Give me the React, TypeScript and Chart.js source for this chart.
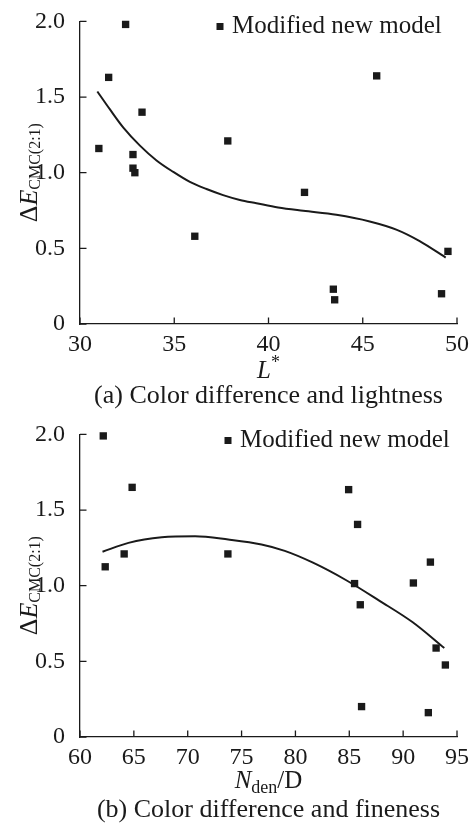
import React, { useEffect, useRef } from 'react';
import { Chart, registerables } from 'chart.js';

Chart.register(...registerables);

// ---- data: (a) colour difference vs lightness ----
const lightnessX = [31.0, 31.52, 32.42, 33.29, 32.81, 32.81, 32.91, 37.84, 41.91, 45.74, 36.09, 43.44, 43.51, 49.18, 49.52];
const lightnessDE = [1.16, 1.63, 1.98, 1.40, 1.12, 1.03, 1.00, 1.21, 0.87, 1.64, 0.58, 0.23, 0.16, 0.20, 0.48];
const lightnessFitX = [30.92, 31.59, 32.30, 33.18, 34.06, 34.95, 35.83, 36.71, 37.59, 38.48, 39.36, 40.51, 41.84, 43.60, 45.37, 46.78, 48.02, 49.40];
const lightnessFitDE = [1.537, 1.418, 1.298, 1.179, 1.081, 1.005, 0.939, 0.892, 0.852, 0.820, 0.798, 0.770, 0.748, 0.722, 0.678, 0.624, 0.548, 0.439];

// ---- data: (b) colour difference vs fineness ----
const finenessX = [62.16, 64.84, 62.34, 64.10, 73.73, 84.94, 85.77, 85.49, 86.02, 90.95, 92.53, 93.06, 93.92, 86.14, 92.34];
const finenessDE = [1.99, 1.65, 1.125, 1.21, 1.21, 1.635, 1.405, 1.014, 0.874, 1.018, 1.156, 0.588, 0.476, 0.201, 0.161];
const finenessFitX = [62.09, 64.50, 67.59, 70.68, 73.76, 76.85, 79.01, 81.63, 84.72, 87.81, 90.89, 93.82];
const finenessFitDE = [1.224, 1.283, 1.320, 1.327, 1.305, 1.272, 1.230, 1.152, 1.036, 0.900, 0.758, 0.588];

const yTicks = [0, 0.5, 1.0, 1.5, 2.0];
const legendLabel = 'Modified new model';
const captionA = '(a) Color difference and lightness';
const captionB = '(b) Color difference and fineness';

const FAMILY = "'Liberation Serif', 'Times New Roman', serif";
const INK = '#1a1a1a';
const W = 469;
const H = 413;

type Part = { t: string; size: number; italic?: boolean; dy?: number };

function drawParts(ctx: CanvasRenderingContext2D, parts: Part[], cx: number, baseY: number) {
  const widths = parts.map((p) => {
    ctx.font = `${p.italic ? 'italic ' : ''}${p.size}px ${FAMILY}`;
    return ctx.measureText(p.t).width;
  });
  const total = widths.reduce((a, b) => a + b, 0);
  let x = cx - total / 2;
  ctx.textAlign = 'left';
  ctx.textBaseline = 'alphabetic';
  parts.forEach((p, i) => {
    ctx.font = `${p.italic ? 'italic ' : ''}${p.size}px ${FAMILY}`;
    ctx.fillText(p.t, x, baseY + (p.dy || 0));
    x += widths[i];
  });
}

type PanelProps = {
  xs: number[];
  ys: number[];
  fitXs: number[];
  fitYs: number[];
  xMin: number;
  xMax: number;
  padTop: number;
  legendDx: number;
  legendBaseline: number;
  xTitle: Part[];
  xTitleBaseline: number;
  caption: string;
  captionBaseline: number;
};

function Panel(props: PanelProps) {
  const ref = useRef<HTMLCanvasElement | null>(null);
  useEffect(() => {
    if (!ref.current) return;
    const decor = {
      id: 'decor',
      afterDraw(chart: any) {
        const ctx: CanvasRenderingContext2D = chart.ctx;
        const ca = chart.chartArea;
        const xs = chart.scales.x;
        const ys = chart.scales.y;
        ctx.save();
        ctx.strokeStyle = INK;
        ctx.lineWidth = 1.3;
        ctx.beginPath();
        xs.ticks.forEach((t: any) => {
          const px = xs.getPixelForValue(t.value);
          ctx.moveTo(px, ca.bottom);
          ctx.lineTo(px, ca.bottom - 6.5);
        });
        ys.ticks.forEach((t: any) => {
          const py = ys.getPixelForValue(t.value);
          ctx.moveTo(ca.left, py);
          ctx.lineTo(ca.left + 6.5, py);
        });
        ctx.stroke();

        ctx.fillStyle = INK;
        // legend
        const lx = ca.left + props.legendDx;
        const ly = props.legendBaseline;
        ctx.fillRect(lx - 12 - 3.5, ly - 10, 7, 7);
        ctx.font = `25px ${FAMILY}`;
        ctx.textAlign = 'left';
        ctx.textBaseline = 'alphabetic';
        ctx.fillText(legendLabel, lx, ly);

        // x title
        const cx = (ca.left + ca.right) / 2;
        drawParts(ctx, props.xTitle, cx, props.xTitleBaseline);
        // caption
        drawParts(ctx, [{ t: props.caption, size: 26 }], cx, props.captionBaseline);

        // y title (rotated)
        ctx.save();
        ctx.translate(37, (ca.top + ca.bottom) / 2);
        ctx.rotate(-Math.PI / 2);
        drawParts(
          ctx,
          [
            { t: '\u0394', size: 26 },
            { t: 'E', size: 26, italic: true },
            { t: 'CMC(2:1)', size: 16, dy: 3 },
          ],
          0,
          0
        );
        ctx.restore();
        ctx.restore();
      },
    };

    const chart = new Chart(ref.current, {
      type: 'scatter',
      data: {
        datasets: [
          {
            label: legendLabel,
            data: props.xs.map((x, i) => ({ x, y: props.ys[i] })),
            pointStyle: 'rect',
            pointRadius: 5.2,
            pointBorderWidth: 0,
            backgroundColor: INK,
            borderColor: INK,
            showLine: false,
            clip: false,
            order: 0,
          } as any,
          {
            label: 'fit',
            data: props.fitXs.map((x, i) => ({ x, y: props.fitYs[i] })),
            showLine: true,
            pointRadius: 0,
            borderColor: INK,
            borderWidth: 2,
            cubicInterpolationMode: 'monotone',
            fill: false,
            order: 1,
          } as any,
        ],
      },
      options: {
        responsive: false,
        animation: false,
        devicePixelRatio: 1,
        layout: { padding: { top: props.padTop, right: 12, left: 0, bottom: 0 } },
        plugins: { legend: { display: false }, tooltip: { enabled: false } },
        scales: {
          x: {
            type: 'linear',
            min: props.xMin,
            max: props.xMax,
            ticks: {
              stepSize: 5,
              padding: -2,
              color: INK,
              font: { family: FAMILY, size: 24 },
              maxRotation: 0,
            },
            grid: { display: false },
            border: { display: true, color: INK, width: 1.3 },
            afterFit: (s: any) => {
              s.height = 89;
            },
          },
          y: {
            type: 'linear',
            min: 0,
            max: 2,
            afterBuildTicks: (s: any) => {
              s.ticks = yTicks.map((v) => ({ value: v }));
            },
            ticks: {
              padding: 7,
              color: INK,
              font: { family: FAMILY, size: 24 },
              callback: (v: any) => (Number(v) === 0 ? '0' : Number(v).toFixed(1)),
            },
            grid: { display: false },
            border: { display: true, color: INK, width: 1.3 },
            afterFit: (s: any) => {
              s.width = 80;
            },
          },
        },
      },
      plugins: [decor],
    });
    return () => chart.destroy();
  }, []);
  return <canvas ref={ref} width={W} height={H} style={{ display: 'block', width: W, height: H }} />;
}

export default function App() {
  return (
    <div style={{ position: 'absolute', left: 0, top: 0, width: W, height: 826, background: '#fff' }}>
      <Panel
        xs={lightnessX}
        ys={lightnessDE}
        fitXs={lightnessFitX}
        fitYs={lightnessFitDE}
        xMin={30}
        xMax={50}
        padTop={17}
        legendDx={152}
        legendBaseline={33}
        xTitle={[
          { t: 'L', size: 25, italic: true },
          { t: '*', size: 18, dy: -10 },
        ]}
        xTitleBaseline={378}
        caption={captionA}
        captionBaseline={403}
      />
      <Panel
        xs={finenessX}
        ys={finenessDE}
        fitXs={finenessFitX}
        fitYs={finenessFitDE}
        xMin={60}
        xMax={95}
        padTop={19}
        legendDx={160}
        legendBaseline={34}
        xTitle={[
          { t: 'N', size: 25, italic: true },
          { t: 'den', size: 18, dy: 5 },
          { t: '/D', size: 25 },
        ]}
        xTitleBaseline={375}
        caption={captionB}
        captionBaseline={404}
      />
    </div>
  );
}
